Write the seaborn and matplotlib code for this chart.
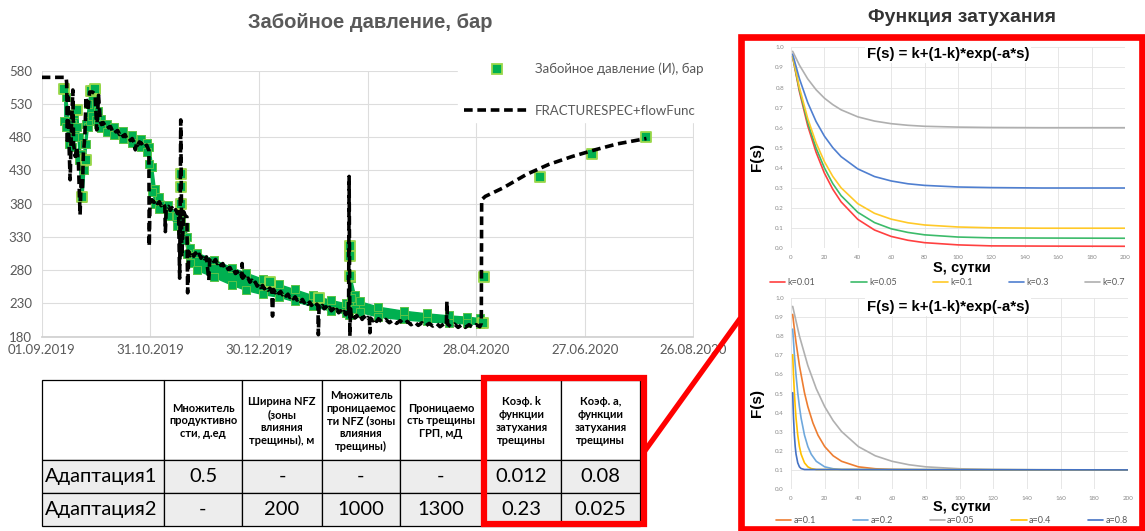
import numpy as np
import pandas as pd
import matplotlib
matplotlib.use("Agg")
import matplotlib.pyplot as plt
import seaborn as sns
from matplotlib.patches import Rectangle
from matplotlib.lines import Line2D

sns.set_theme(style="white")
plt.rcParams['font.family'] = ['Lato', 'DejaVu Sans']

# ---------------- data: main chart ----------------
start_date = "2019-09-01"
date_ticks = ["01.09.2019", "31.10.2019", "30.12.2019", "28.02.2020",
              "28.04.2020", "27.06.2020", "26.08.2020"]
pressure_ticks = [180, 230, 280, 330, 380, 430, 480, 530, 580]

# measured bottom-hole pressure: dense band (upper / lower edge), days from start
band_day = [12.5, 13.5, 15, 16.5, 18, 19.5, 20.5, 21.5, 22.5, 23.5,
            24.5, 25.5, 26.5, 28, 30, 31, 33, 36, 40, 45,
            50, 55, 58, 59.5, 61, 62.5, 65, 70, 75, 77,
            79, 80.5, 82, 86, 95, 105, 113, 122, 131, 140,
            150, 160, 168, 169.8, 170.8, 173, 176, 186, 200, 213,
            225, 235, 242]
band_hi = [555, 540, 505, 500, 515, 522, 480, 455, 450, 470,
           500, 530, 548, 553, 552, 520, 508, 500, 495, 490,
           484, 478, 472, 465, 435, 402, 390, 378, 362, 356,
           345, 330, 314, 306, 296, 284, 276, 267, 259, 251,
           242, 235, 230, 228, 268, 242, 233, 225, 219, 215,
           212, 210, 208]
band_lo = [505, 495, 470, 465, 480, 495, 445, 392, 388, 430,
           470, 495, 505, 512, 506, 500, 494, 488, 483, 478,
           471, 465, 458, 440, 398, 380, 372, 362, 347, 340,
           325, 305, 291, 280, 270, 258, 250, 244, 240, 233,
           226, 219, 215, 213, 238, 222, 217, 210, 206, 203,
           201, 200, 199]
# measured: isolated points
point_day = [12.5, 19.5, 22, 24.5, 27.5, 29.5, 77, 77, 77, 126, 153,
             170.3, 170.3, 170.3, 244, 244.5, 275, 304, 334]
point_bar = [553, 521, 390, 446, 550, 552, 425, 405, 380, 262, 238,
             316, 301, 271, 201, 270, 420, 455, 480]

# model FRACTURESPEC+flowFunc (days from start, bar)
model_day = [0, 13.5, 13.8, 14.2, 14.6, 15.2, 15.7, 16.3, 17.2, 17.6,
             18.5, 19.4, 20.3, 21.2, 21.8, 22.5, 23, 23.8, 24.5, 25.5,
             26.5, 28, 29.5, 30.4, 31.4, 32.3, 33, 34, 35, 36,
             37, 38, 39, 40, 41, 42, 43, 44, 45, 46,
             47, 48, 49, 50, 51, 51.7, 52.5, 53, 54, 55,
             56, 57, 58, 59.2, 59.4, 59.8, 60.9, 62, 63, 64,
             65, 66, 67, 68, 68.3, 68.8, 70, 71, 72, 73,
             74, 75, 75.6, 76.2, 76.8, 77.4, 78.4, 79.3, 80.2, 80.6,
             81.2, 82, 83, 84, 85, 86, 87, 88, 89, 90,
             91, 92.3, 92.8, 94, 95, 96, 97, 98, 99, 100,
             101, 102, 103, 104, 105, 106, 107, 108, 109, 110,
             110.5, 110.7, 111, 112, 113, 114, 115, 116, 117, 118,
             119, 120, 121, 122, 123, 124, 125, 126, 127, 127.5,
             128, 129, 130, 131, 132, 133, 134, 135, 136, 137,
             138, 139, 140, 141, 142, 143, 144, 145, 146, 147,
             148, 149, 150, 151, 152, 152.6, 152.8, 153.2, 154, 155,
             156, 157, 158, 159, 160, 161, 162, 163, 164, 165,
             166, 167, 168, 169, 169.5, 169.8, 170.2, 170.6, 171, 172,
             173, 174, 175, 176, 177, 178, 179, 180, 181, 181.3,
             181.6, 183, 184, 185, 186, 188, 190, 192, 194, 196,
             198, 200, 202, 204, 206, 208, 210, 212, 214, 216,
             218, 220, 222, 223.5, 223.8, 224.2, 226, 228, 230, 232,
             234, 236, 238, 240, 242, 242.8, 243, 245, 255, 267.7,
             280, 293, 305.6, 318, 334]
model_bar = [570, 570, 561, 470, 540, 460, 416, 480, 551, 470,
             451, 465, 440, 363, 420, 400, 455, 480, 541, 520,
             548, 548, 545, 491, 543, 505, 499, 502, 497, 499,
             494, 496, 490, 493, 488, 490, 484, 487, 481, 484,
             478, 480, 475, 478, 472, 461, 472, 468, 473, 470,
             472, 466, 468, 460, 316, 380, 386, 382, 386, 380,
             383, 377, 381, 376, 338, 374, 376, 370, 374, 368,
             371, 365, 368, 268, 506, 300, 368, 362, 360, 246,
             308, 302, 307, 301, 306, 300, 304, 298, 303, 297,
             300, 265, 296, 299, 293, 296, 290, 293, 287, 290,
             284, 287, 281, 284, 278, 281, 275, 278, 272, 275,
             270, 290, 268, 271, 265, 268, 262, 265, 259, 262,
             256, 260, 254, 257, 252, 255, 250, 253, 249, 211,
             251, 246, 250, 245, 248, 243, 246, 241, 244, 239,
             242, 237, 240, 235, 238, 233, 236, 231, 234, 229,
             232, 227, 230, 226, 229, 226, 183, 226, 223, 227,
             222, 225, 220, 224, 219, 222, 217, 221, 216, 219,
             214, 218, 213, 217, 214, 421, 181, 222, 210, 214,
             208, 212, 207, 211, 206, 210, 205, 209, 206, 186,
             208, 204, 208, 203, 207, 202, 206, 201, 205, 200,
             204, 199, 203, 198, 202, 197, 201, 196, 200, 196,
             200, 195, 199, 197, 233, 199, 195, 199, 194, 198,
             194, 198, 194, 198, 195, 200, 386, 391, 404, 424,
             439, 451, 461, 470, 478]

# ---------------- data: damping function charts ----------------
k_labels = ["k=0.01", "k=0.05", "k=0.1", "k=0.3", "k=0.7"]
k_s = [1, 5, 10, 15, 20, 25, 30, 40, 50, 60, 70, 80, 100, 120, 150, 200]
k_curves = [
    [.952, .781, .610, .478, .374, .294, .231, .144, .091, .059, .040, .028, .017, .012, .011, .010],
    [.954, .790, .626, .499, .400, .322, .262, .179, .128, .097, .079, .067, .056, .052, .051, .050],
    [.956, .801, .646, .525, .431, .358, .301, .222, .174, .145, .127, .116, .106, .102, .100, .100],
    [.966, .845, .725, .631, .558, .501, .456, .395, .357, .335, .321, .313, .305, .302, .300, .300],
    [.980, .912, .843, .789, .747, .715, .689, .654, .633, .620, .612, .607, .603, .601, .600, .600],
]
k_colors = ["#FF4040", "#3CBB6A", "#FFC928", "#4F7FD0", "#AFAFAF"]

a_labels = ["a=0.1", "a=0.2", "a=0.05", "a=0.4", "a=0.8"]
a_s = [
    [1, 2, 3, 5, 8, 10, 13, 16, 20, 25, 30, 40, 50, 60, 80, 200],
    [1, 2, 3, 4, 5, 6, 8, 10, 12, 15, 20, 25, 30, 200],
    [1, 5, 10, 15, 20, 25, 30, 40, 50, 60, 70, 80, 100, 120, 150, 200],
    [1, 1.5, 2, 2.5, 3, 4, 5, 6, 8, 10, 12, 15, 200],
    [1, 1.25, 1.5, 2, 2.5, 3, 4, 5, 6, 8, 200],
]
a_curves = [
    [.914, .837, .767, .646, .504, .431, .346, .282, .222, .174, .145, .116, .106, .102, .100, .100],
    [.837, .703, .594, .504, .431, .371, .282, .222, .182, .145, .116, .106, .102, .100],
    [.956, .801, .646, .525, .431, .358, .301, .222, .174, .145, .127, .116, .106, .102, .100, .100],
    [.703, .594, .504, .431, .371, .282, .222, .182, .137, .116, .107, .102, .100],
    [.504, .431, .371, .282, .222, .182, .137, .116, .107, .102, .100],
]
a_colors = ["#ED7D31", "#6FA8DC", "#B0B0B0", "#FFC000", "#4472C4"]
s_ticks = [0, 20, 40, 60, 80, 100, 120, 140, 160, 180, 200]
f_ticks = [0.0, 0.1, 0.2, 0.3, 0.4, 0.5, 0.6, 0.7, 0.8, 0.9, 1.0]

# ---------------- table ----------------
table_header = ["", "Множитель\nпродуктивно\nсти, д.ед", "Ширина NFZ\n(зоны\nвлияния\nтрещины), м",
                "Множитель\nпроницаемос\nти NFZ (зоны\nвлияния\nтрещины)",
                "Проницаемо\nсть трещины\nГРП, мД", "Коэф. k\nфункции\nзатухания\nтрещины",
                "Коэф. а,\nфункции\nзатухания\nтрещины"]
table_rows = [["Адаптация1", "0.5", "-", "-", "-", "0.012", "0.08"],
              ["Адаптация2", "-", "200", "1000", "1300", "0.23", "0.025"]]

# ---------------- figure ----------------
W, H = 1145, 531
fig = plt.figure(figsize=(W / 100, H / 100), dpi=100)
fig.patch.set_facecolor("white")


def ax_px(x0, y0, x1, y1):
    return fig.add_axes([x0 / W, 1 - y1 / H, (x1 - x0) / W, (y1 - y0) / H])


t0 = pd.Timestamp(start_date)


def to_date(d):
    return t0 + pd.to_timedelta(np.asarray(d, dtype=float), unit="D")


GRAY = "#595959"
GREEN = "#00B050"
GREEN_EDGE = "#9BD84A"

# main chart
ax = ax_px(41.7, 70.7, 693.5, 336.7)
ax.fill_between(to_date(band_day), band_lo, band_hi, facecolor=GREEN,
                edgecolor=GREEN, lw=1.0, zorder=2)
for edge in (band_hi, band_lo):
    sns.scatterplot(x=to_date(band_day), y=edge, marker="s", s=26, color=GREEN,
                    edgecolor="#5CC447", linewidth=0.7, ax=ax, zorder=2.5)
sns.scatterplot(x=to_date(point_day), y=point_bar, marker="s", s=42, color=GREEN,
                edgecolor=GREEN_EDGE, linewidth=1.3, ax=ax, zorder=3)
sns.lineplot(x=to_date(model_day), y=model_bar, estimator=None, sort=False,
             color="black", lw=2.6, ax=ax, zorder=4)
ax.lines[-1].set_dashes([2.4, 1.3])

tick_dates = pd.to_datetime(date_ticks, format="%d.%m.%Y")
ax.set_xlim(tick_dates[0], tick_dates[-1])
ax.set_xticks(tick_dates)
ax.set_xticklabels(date_ticks)
ax.set_ylim(pressure_ticks[0], pressure_ticks[-1])
ax.set_yticks(pressure_ticks)
ax.set_yticklabels([str(v) for v in pressure_ticks])
ax.grid(True, color="#DDDDDD", lw=0.8)
ax.set_axisbelow(True)
for sp in ["top", "right", "left"]:
    ax.spines[sp].set_visible(False)
ax.spines["bottom"].set_color("#D0D0D0")
ax.tick_params(length=0, colors=GRAY, labelsize=9.5)
ax.tick_params(axis="y", pad=7)
ax.tick_params(axis="x", pad=5)
ax.set_xlabel("")
ax.set_ylabel("")

h_meas = Line2D([], [], marker="s", ls="none", mfc=GREEN, mec=GREEN_EDGE, mew=1.3, ms=6.5)
h_model = Line2D([], [], color="black", lw=2.6, dashes=[2.4, 1.3])
leg = ax.legend([h_meas, h_model], ["Забойное давление (И), бар", "FRACTURESPEC+flowFunc"],
                loc="upper left", bbox_to_anchor=(458 / W, 1 - 57 / H),
                bbox_transform=fig.transFigure, frameon=True, fontsize=9.5,
                handlelength=5.0, handletextpad=0.35, labelspacing=2.2,
                borderpad=0.45, borderaxespad=0)
leg.get_frame().set_facecolor("white")
leg.get_frame().set_edgecolor("white")
leg.get_frame().set_alpha(1)
for t in leg.get_texts():
    t.set_color(GRAY)


def style_small(axs):
    axs.set_xlim(0, 200)
    axs.set_ylim(0, 1.0)
    axs.set_xticks(s_ticks)
    axs.set_yticks(f_ticks)
    axs.set_yticklabels([f"{v:.1f}" for v in f_ticks])
    axs.grid(True, color="#E3E3E3", lw=0.6)
    axs.set_axisbelow(True)
    for sp in ["top", "right", "left", "bottom"]:
        axs.spines[sp].set_visible(False)
    axs.tick_params(length=0, colors="#8A8A8A", labelsize=4.5, pad=5)
    axs.set_xlabel("")
    axs.set_ylabel("")


# damping chart 1
ax1 = ax_px(791, 47.3, 1125, 248.3)
for s_vals, c_vals, col, lab in zip([k_s] * 5, k_curves, k_colors, k_labels):
    sns.lineplot(x=s_vals, y=c_vals, color=col, lw=1.2, ax=ax1, label=lab,
                 estimator=None, sort=False)
style_small(ax1)
l1 = ax1.legend(loc="lower left", bbox_to_anchor=(770 / W, 1 - 287 / H, 355 / W, 14 / H),
                bbox_transform=fig.transFigure, mode="expand", ncol=5, frameon=False,
                fontsize=6.5, handlelength=1.7, handletextpad=0.25, borderaxespad=0,
                borderpad=0)
for t in l1.get_texts():
    t.set_color(GRAY)

# damping chart 2
ax2 = ax_px(791, 298, 1128, 489)
for s_vals, c_vals, col, lab in zip(a_s, a_curves, a_colors, a_labels):
    sns.lineplot(x=s_vals, y=c_vals, color=col, lw=1.2, ax=ax2, label=lab,
                 estimator=None, sort=False)
style_small(ax2)
l2 = ax2.legend(loc="lower left", bbox_to_anchor=(776 / W, 1 - 525 / H, 352 / W, 14 / H),
                bbox_transform=fig.transFigure, mode="expand", ncol=5, frameon=False,
                fontsize=6.5, handlelength=1.7, handletextpad=0.25, borderaxespad=0,
                borderpad=0)
for t in l2.get_texts():
    t.set_color(GRAY)

# ---------------- overlay: titles, table, red frames ----------------
ov = fig.add_axes([0, 0, 1, 1], zorder=10)
ov.set_xlim(0, W)
ov.set_ylim(H, 0)
ov.axis("off")

TITLE_FONT = ["Liberation Sans", "DejaVu Sans"]
ov.text(370, 22, "Забойное давление, бар", ha="center", va="center", fontsize=14.5,
        fontweight="bold", color=GRAY, family=TITLE_FONT)
ov.text(962, 17, "Функция затухания", ha="center", va="center", fontsize=14,
        fontweight="bold", color="#333333", family=TITLE_FONT)

for yc in (54, 307):
    ov.text(948, yc, "F(s) = k+(1-k)*exp(-a*s)", ha="center", va="center", fontsize=10.8,
            fontweight="bold", color="black", family=TITLE_FONT,
            bbox=dict(fc="white", ec="none", pad=1.5))
for yc in (157, 403):
    ov.text(757, yc, "F(s)", ha="center", va="center", rotation=90, fontsize=11,
            fontweight="bold", color="black", family=TITLE_FONT)
for yc in (268, 507):
    ov.text(962, yc, "S, сутки", ha="center", va="center", fontsize=10.5,
            fontweight="bold", color="black", family=TITLE_FONT)

# table
col_x = [42, 164, 242, 322, 400, 482, 561, 640]
row_y = [380, 460, 493, 526]
for r in range(3):
    for c in range(7):
        fc = "white" if r == 0 else "#EDEDED"
        ov.add_patch(Rectangle((col_x[c], row_y[r]), col_x[c + 1] - col_x[c],
                               row_y[r + 1] - row_y[r], fc=fc, ec="black", lw=0.9))
for c, txt in enumerate(table_header):
    ov.text((col_x[c] + col_x[c + 1]) / 2, (row_y[0] + row_y[1]) / 2 + 1, txt,
            ha="center", va="center", fontsize=8, fontweight="bold",
            linespacing=1.2, color="black")
for r, row in enumerate(table_rows):
    yc = (row_y[r + 1] + row_y[r + 2]) / 2
    for c, txt in enumerate(row):
        if c == 0:
            ov.text(col_x[0] + 3, yc, txt, ha="left", va="center", fontsize=14.5, color="black")
        else:
            ov.text((col_x[c] + col_x[c + 1]) / 2, yc, txt, ha="center", va="center",
                    fontsize=14.5, color="black")

RED = "#FF0000"
ov.add_patch(Rectangle((484, 378), 160, 146, fill=False, ec=RED, lw=4.5))
ov.add_patch(Rectangle((740.5, 36.5), 401.5, 492, fill=False, ec=RED, lw=4.8))
ov.add_line(Line2D([644, 740.5], [452, 318], color=RED, lw=3.8, solid_capstyle="butt"))

fig.savefig("out.png", dpi=100, facecolor="white")
